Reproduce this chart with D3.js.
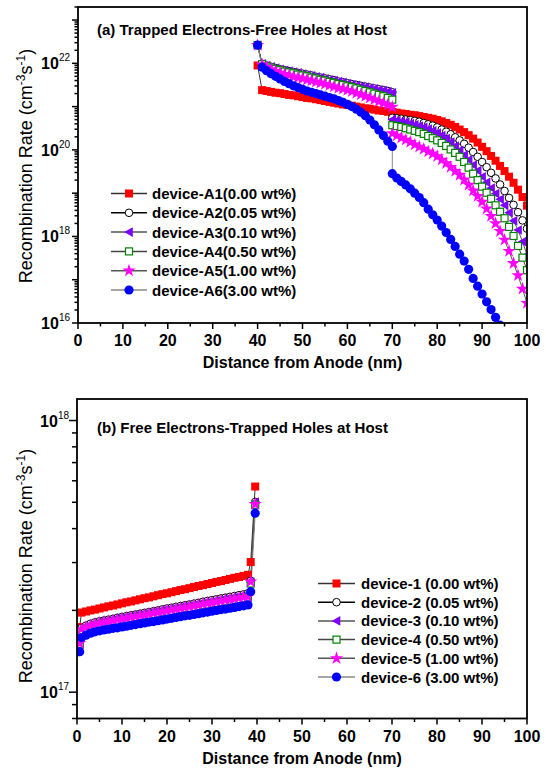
<!DOCTYPE html>
<html><head><meta charset="utf-8">
<script src="https://cdn.jsdelivr.net/npm/d3@7"></script>
<style>body{margin:0;background:#fff}svg{display:block;font-family:"Liberation Sans",Arial,sans-serif}</style>
</head><body>
<script>
// ---------- DATA (values are log10 of recombination rate) ----------
const topX = [40,41,42,43,44,45,46,47,48,49,50,51,52,53,54,55,56,57,58,59,60,61,62,63,64,65,66,67,68,69,70,
              70,71,72,73,74,75,76,77,78,79,80,81,82,83,84,85,86,87,88,89,90,91,92,93,94,95,96,97,98,99,100];
const topNames = ["device-A1(0.00 wt%)","device-A2(0.05 wt%)","device-A3(0.10 wt%)","device-A4(0.50 wt%)","device-A5(1.00 wt%)","device-A6(3.00 wt%)"];
const topA1 = [21.95,21.38,21.36,21.34,21.32,21.31,21.29,21.27,21.26,21.24,21.22,21.20,21.19,21.17,21.15,21.13,21.11,21.09,21.07,21.05,21.04,21.02,21.00,20.98,20.96,20.95,20.93,20.91,20.90,20.88,20.87,
               20.87,20.86,20.84,20.83,20.81,20.80,20.78,20.76,20.74,20.72,20.69,20.66,20.62,20.58,20.53,20.47,20.41,20.34,20.26,20.17,20.07,19.97,19.86,19.75,19.63,19.51,19.38,19.24,19.08,18.91,18.71];
const topA2 = [22.42,21.99,21.95,21.92,21.89,21.86,21.84,21.82,21.80,21.78,21.76,21.74,21.72,21.69,21.67,21.65,21.63,21.61,21.58,21.56,21.54,21.52,21.50,21.48,21.46,21.44,21.42,21.40,21.38,21.36,21.33,
               20.74,20.73,20.72,20.70,20.69,20.67,20.65,20.62,20.59,20.56,20.52,20.47,20.42,20.36,20.29,20.22,20.14,20.05,19.95,19.84,19.72,19.60,19.47,19.34,19.20,19.05,18.89,18.73,18.56,18.37,18.18];
const topA3 = [22.42,21.99,21.95,21.92,21.89,21.86,21.84,21.82,21.80,21.78,21.75,21.73,21.71,21.69,21.67,21.64,21.62,21.60,21.58,21.56,21.53,21.51,21.49,21.47,21.45,21.43,21.41,21.39,21.37,21.35,21.32,
               20.70,20.68,20.66,20.64,20.61,20.58,20.55,20.52,20.48,20.44,20.39,20.33,20.26,20.18,20.09,19.99,19.88,19.77,19.65,19.52,19.38,19.25,19.12,18.99,18.86,18.72,18.55,18.36,18.15,17.88,17.57];
const topA4 = [22.42,21.98,21.93,21.90,21.87,21.84,21.81,21.79,21.77,21.74,21.72,21.70,21.67,21.65,21.62,21.60,21.57,21.55,21.52,21.50,21.47,21.45,21.42,21.39,21.36,21.33,21.30,21.27,21.24,21.20,21.16,
               20.57,20.55,20.53,20.50,20.47,20.44,20.41,20.37,20.32,20.27,20.22,20.16,20.09,20.01,19.93,19.84,19.72,19.59,19.45,19.30,19.15,19.01,18.87,18.72,18.57,18.42,18.22,18.01,17.78,17.51,17.22];
const topA5 = [22.42,21.97,21.91,21.86,21.82,21.78,21.75,21.72,21.69,21.67,21.65,21.62,21.60,21.57,21.55,21.52,21.49,21.46,21.43,21.41,21.38,21.35,21.31,21.28,21.24,21.20,21.16,21.12,21.08,21.04,20.99,
               20.38,20.33,20.28,20.23,20.18,20.12,20.07,20.02,19.96,19.91,19.85,19.77,19.69,19.60,19.51,19.42,19.31,19.19,19.06,18.93,18.80,18.64,18.47,18.30,18.12,17.92,17.66,17.38,17.10,16.79,16.46];
const topA6 = [22.42,21.91,21.83,21.76,21.70,21.64,21.58,21.53,21.48,21.44,21.40,21.36,21.33,21.30,21.27,21.24,21.21,21.18,21.14,21.10,21.05,21.00,20.94,20.87,20.79,20.69,20.58,20.46,20.33,20.20,20.08,
               19.45,19.35,19.27,19.19,19.10,19.00,18.90,18.78,18.63,18.50,18.38,18.24,18.09,17.93,17.77,17.59,17.43,17.24,17.03,16.85,16.67,16.49,16.31,16.13,15.95,15.76,15.57,15.38,15.18,14.98,14.78];

const botX = [0.6,1,2,3,4,5,6,7,8,9,10,11,12,13,14,15,16,17,18,19,20,21,22,23,24,25,26,27,28,29,30,31,32,33,34,35,36,37,38,38.6,39.6];
const botNames = ["device-1 (0.00 wt%)","device-2 (0.05 wt%)","device-3 (0.10 wt%)","device-4 (0.50 wt%)","device-5 (1.00 wt%)","device-6 (3.00 wt%)"];
const bot1 = [17.24,17.293,17.297,17.301,17.304,17.308,17.312,17.316,17.319,17.323,17.327,17.331,17.334,17.338,17.342,17.346,17.349,17.353,17.357,17.361,17.364,17.368,17.372,17.376,17.379,17.383,17.387,17.391,17.394,17.398,17.402,17.406,17.409,17.413,17.417,17.421,17.424,17.428,17.432,17.479,17.757];
const bot2 = [17.186,17.236,17.245,17.252,17.257,17.261,17.264,17.267,17.270,17.274,17.277,17.280,17.283,17.286,17.289,17.292,17.295,17.298,17.301,17.305,17.308,17.311,17.314,17.317,17.320,17.323,17.326,17.329,17.333,17.336,17.339,17.342,17.345,17.348,17.351,17.354,17.357,17.360,17.364,17.41,17.70];
const bot3 = [17.18,17.232,17.241,17.248,17.253,17.257,17.260,17.263,17.266,17.270,17.273,17.276,17.279,17.282,17.285,17.288,17.291,17.294,17.297,17.300,17.303,17.306,17.309,17.312,17.315,17.318,17.321,17.324,17.327,17.330,17.333,17.336,17.339,17.342,17.345,17.348,17.351,17.354,17.357,17.405,17.70];
const bot4 = [17.175,17.226,17.235,17.241,17.246,17.250,17.253,17.256,17.259,17.262,17.265,17.268,17.271,17.274,17.277,17.280,17.283,17.286,17.289,17.292,17.295,17.298,17.301,17.304,17.307,17.310,17.313,17.316,17.319,17.322,17.325,17.328,17.331,17.334,17.337,17.340,17.342,17.345,17.348,17.40,17.69];
const bot5 = [17.18,17.232,17.240,17.246,17.251,17.255,17.258,17.261,17.264,17.267,17.270,17.273,17.276,17.279,17.282,17.285,17.288,17.291,17.294,17.297,17.300,17.303,17.306,17.309,17.312,17.315,17.318,17.321,17.324,17.327,17.330,17.333,17.336,17.339,17.341,17.344,17.347,17.350,17.352,17.407,17.692];
const bot6 = [17.149,17.201,17.210,17.217,17.222,17.226,17.229,17.232,17.235,17.237,17.240,17.243,17.246,17.249,17.252,17.255,17.258,17.260,17.263,17.266,17.269,17.272,17.275,17.278,17.281,17.283,17.286,17.289,17.292,17.295,17.298,17.301,17.304,17.306,17.309,17.312,17.315,17.318,17.321,17.370,17.659];

const xTicks = [0,10,20,30,40,50,60,70,80,90,100];
const topYLabels = [16,18,20,22];
const botYLabels = [17,18];
const titleA = "(a) Trapped Electrons-Free Holes at Host";
const titleB = "(b) Free Electrons-Trapped Holes at Host";
const xTitle = "Distance from Anode (nm)";

// ---------- STYLE ----------
const styles = [
  {sym:"sq",   fill:"#ff0000", stroke:"none",    line:"#333"},
  {sym:"circ", fill:"#ffffff", stroke:"#000000", line:"#000"},
  {sym:"tri",  fill:"#7f00ff", stroke:"#7f00ff", line:"#555"},
  {sym:"osq",  fill:"#ffffff", stroke:"#008000", line:"#444"},
  {sym:"star", fill:"#ff00ff", stroke:"none",    line:"#555"},
  {sym:"dot",  fill:"#0000ff", stroke:"none",    line:"#888"}
];
const W=546,H=770;
const svg = d3.select("body").append("svg").attr("width",W).attr("height",H);
let clipId=0;

function drawMarker(g, st, x, y){
  if(st.sym==="sq") g.append("rect").attr("x",x-4).attr("y",y-4).attr("width",8).attr("height",8).attr("fill",st.fill);
  else if(st.sym==="circ") g.append("circle").attr("cx",x).attr("cy",y).attr("r",3.8).attr("fill","#fff").attr("stroke",st.stroke).attr("stroke-width",1);
  else if(st.sym==="tri") g.append("path").attr("d",`M${x-4.8},${y} L${x+3.8},${y-4.8} L${x+3.8},${y+4.8} Z`).attr("fill",st.fill);
  else if(st.sym==="osq") g.append("rect").attr("x",x-3.5).attr("y",y-3.5).attr("width",7).attr("height",7).attr("fill","#fff").attr("stroke",st.stroke).attr("stroke-width",1.2);
  else if(st.sym==="star") g.append("path").attr("d",d3.symbol(d3.symbolStar,55)()).attr("transform",`translate(${x},${y})`).attr("fill",st.fill);
  else if(st.sym==="dot") g.append("circle").attr("cx",x).attr("cy",y).attr("r",4.6).attr("fill",st.fill);
}

function panel(o){
  const x = d3.scaleLinear().domain([0,100]).range([o.left,o.right]);
  const y = d3.scaleLog().domain(o.ydom).range([o.bottom,o.top]);
  const g = svg.append("g");
  const id = "clip"+(clipId++);
  svg.append("clipPath").attr("id",id).append("rect").attr("x",o.left).attr("y",o.top).attr("width",o.right-o.left).attr("height",o.bottom-o.top);
  const pg = g.append("g").attr("clip-path",`url(#${id})`);
  const line = d3.line().x((d,i)=>x(o.xs[i])).y(d=>y(Math.pow(10,d)));
  o.series.forEach((s,k)=>{
    const st=styles[k];
    pg.append("path").attr("d",line(s)).attr("fill","none").attr("stroke",st.line).attr("stroke-width",1);
  });
  o.series.forEach((s,k)=>{
    const st=styles[k];
    const mg = pg.append("g");
    s.forEach((v,i)=>drawMarker(mg, st, x(o.xs[i]), y(Math.pow(10,v))));
  });
  // frame
  g.append("rect").attr("x",o.left).attr("y",o.top).attr("width",o.right-o.left).attr("height",o.bottom-o.top)
    .attr("fill","none").attr("stroke","#000").attr("stroke-width",1.8);
  // x ticks
  const ax = g.append("g").attr("stroke","#000").attr("stroke-width",1.5);
  d3.range(0,101,5).forEach(t=>{
    const major = t%10===0;
    ax.append("line").attr("x1",x(t)).attr("x2",x(t)).attr("y1",o.bottom).attr("y2",o.bottom+(major?6:3.5));
  });
  xTicks.forEach(t=>{
    g.append("text").attr("x",x(t)).attr("y",o.bottom+23).attr("text-anchor","middle")
      .attr("font-size",16).attr("font-weight","bold").text(t);
  });
  // y ticks
  const [d0,d1]=o.ydom;
  for(let e=Math.floor(Math.log10(d0)); e<=Math.ceil(Math.log10(d1)); e++){
    for(let m=1;m<=9;m++){
      const v=m*Math.pow(10,e);
      if(v<d0*0.999||v>d1*1.001) continue;
      ax.append("line").attr("x1",o.left).attr("x2",o.left-(m===1?o.majLen:o.minLen)).attr("y1",y(v)).attr("y2",y(v));
    }
  }
  o.ylabels.forEach(e=>{
    const t = g.append("text").attr("x",o.left-8).attr("y",y(Math.pow(10,e))+6).attr("text-anchor","end")
      .attr("font-size",16).attr("font-weight","bold");
    t.append("tspan").text("10");
    t.append("tspan").attr("dy",-8).attr("font-size",10).attr("font-weight","normal").text(e);
  });
  // titles
  g.append("text").attr("x",(o.left+o.right)/2).attr("y",o.bottom+45).attr("text-anchor","middle")
    .attr("font-size",16).attr("font-weight","bold").text(xTitle);
  const yt = g.append("text").attr("transform",`translate(32,${o.ycenter}) rotate(-90)`).attr("text-anchor","middle").attr("font-size",18);
  yt.append("tspan").text("Recombination Rate (cm");
  yt.append("tspan").attr("dy",-7).attr("font-size",12).text("-3");
  yt.append("tspan").attr("dy",7).text("s");
  yt.append("tspan").attr("dy",-7).attr("font-size",12).text("-1");
  yt.append("tspan").attr("dy",7).text(")");
  g.append("text").attr("x",97).attr("y",o.titleY).attr("font-size",15).attr("font-weight","bold").text(o.title);
  // legend
  o.names.forEach((n,k)=>{
    const cy = o.leg.y + k*o.leg.dy;
    const st=styles[k];
    g.append("line").attr("x1",o.leg.x1).attr("x2",o.leg.x2).attr("y1",cy).attr("y2",cy).attr("stroke",st.line).attr("stroke-width",1.5);
    drawMarker(g, st, (o.leg.x1+o.leg.x2)/2, cy);
    g.append("text").attr("x",o.leg.tx).attr("y",cy+5.5).attr("font-size",15).attr("font-weight","bold").text(n);
  });
}

panel({left:78,right:527,top:7,bottom:323,ydom:[1e16,2e23],xs:topX,
  series:[topA1,topA2,topA3,topA4,topA5,topA6],names:topNames,ylabels:topYLabels,
  majLen:6,minLen:3.5,ycenter:166,title:titleA,titleY:35,
  leg:{y:193.5,dy:19.3,x1:111,x2:147,tx:152}});
panel({left:77,right:527,top:399,bottom:718.5,ydom:[8e16,1.2e18],xs:botX,
  series:[bot1,bot2,bot3,bot4,bot5,bot6],names:botNames,ylabels:botYLabels,
  majLen:8,minLen:5,ycenter:566,title:titleB,titleY:433,
  leg:{y:583.5,dy:18.7,x1:318,x2:355,tx:361}});
</script>
</body></html>
